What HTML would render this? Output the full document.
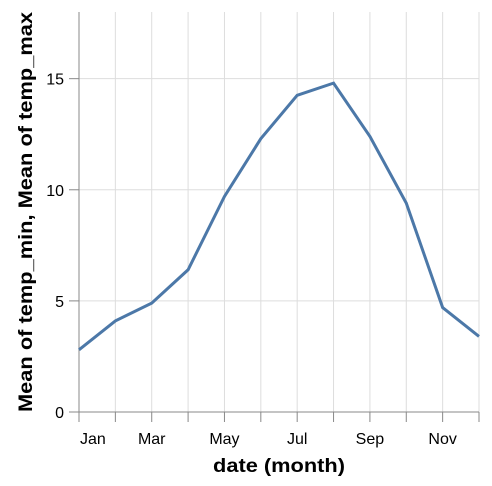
<!DOCTYPE html>
<html><head><meta charset="utf-8"><style>
body{margin:0;background:#fff;}
svg{display:block;font-family:"Liberation Sans",Arial,sans-serif;}
</style></head><body>
<svg id="chart" width="492" height="486" viewBox="0 0 492 486" xmlns="http://www.w3.org/2000/svg">
<g id="grid"></g>
<g id="axes"></g>
<path id="line" fill="none" stroke="#4c78a8" stroke-width="3"></path>
<text x="279" y="472" text-anchor="middle" font-size="19" font-weight="bold" textLength="132" lengthAdjust="spacingAndGlyphs">date (month)</text>
<text transform="translate(32,212) rotate(-90)" text-anchor="middle" font-size="19" font-weight="bold" textLength="400" lengthAdjust="spacingAndGlyphs">Mean of temp_min, Mean of temp_max</text>
</svg>
<script>
const months = ["Jan","Feb","Mar","Apr","May","Jun","Jul","Aug","Sep","Oct","Nov","Dec"];
const values = [2.8,4.1,4.9,6.4,9.7,12.3,14.25,14.8,12.4,9.4,4.7,3.4];
const yTicks = [0,5,10,15];
const xTickLabels = ["Jan","Mar","May","Jul","Sep","Nov"];
const X0=79,X1=479,Y0=412,Y1=12,YMAX=18;
const xs=i=>X0+(X1-X0)*i/(months.length-1);
const ys=v=>Y0-(Y0-Y1)*v/YMAX;
const NS="http://www.w3.org/2000/svg";
const grid=document.getElementById('grid'),axes=document.getElementById('axes');
function mk(tag,attrs,parent){const e=document.createElementNS(NS,tag);for(const k in attrs)e.setAttribute(k,attrs[k]);parent.appendChild(e);return e;}
months.forEach((m,i)=>{
  const g=mk('line',{x1:xs(i),x2:xs(i),y1:Y1,y2:Y0,stroke:'#ddd'},grid);
  
  
  const t=mk('line',{x1:xs(i),x2:xs(i),y1:Y0,y2:Y0+10,stroke:'#888'},axes);
  
  
  if(xTickLabels.includes(m)){
    const l=mk('text',{x:i===0?xs(i)+1:xs(i),y:Y0+32,'text-anchor':i===0?'start':'middle','font-size':'16',fill:'#000'},axes);
    l.textContent=m;
    
    
  }
});
yTicks.forEach(v=>{
  const g=mk('line',{x1:X0,x2:X1,y1:ys(v),y2:ys(v),stroke:'#ddd'},grid);
  
  
  const t=mk('line',{x1:X0-10,x2:X0,y1:ys(v),y2:ys(v),stroke:'#888'},axes);
  
  
  const l=mk('text',{x:X0-15,y:ys(v)+6,'text-anchor':'end','font-size':'16',fill:'#000'},axes);
  l.textContent=v;
  
  
});
const ax=mk('line',{x1:X0,x2:X1,y1:Y0,y2:Y0,stroke:'#888'},axes);


const ay=mk('line',{x1:X0,x2:X0,y1:Y1,y2:Y0,stroke:'#888'},axes);


document.getElementById('line').setAttribute('d',values.map((v,i)=>(i?'L':'M')+xs(i)+','+ys(v)).join(''));
</script>
</body></html>
